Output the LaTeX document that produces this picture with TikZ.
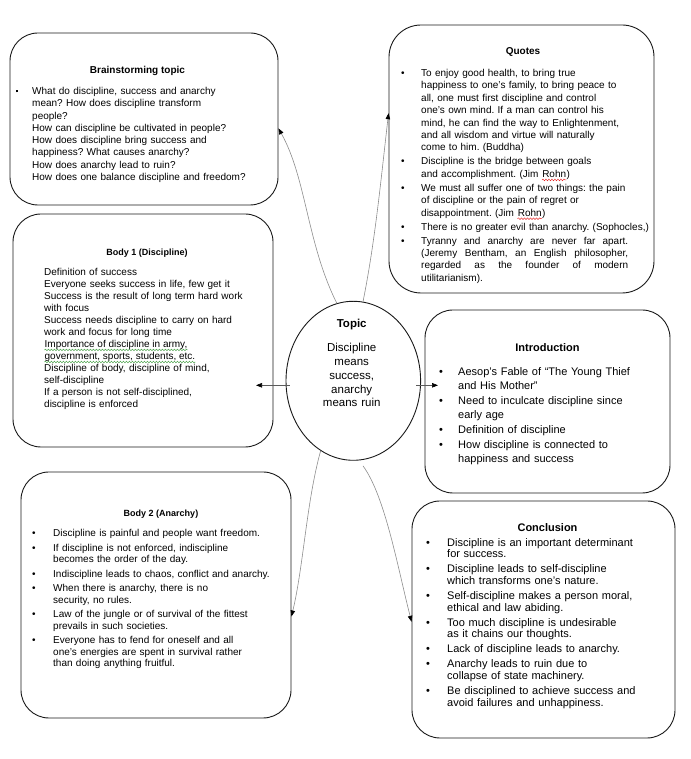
\documentclass[tikz,border=0pt]{standalone}
\usepackage{fontspec}
\setmainfont{Liberation Sans}
\usetikzlibrary{arrows.meta, shapes.geometric, calc, decorations.pathmorphing}
\frenchspacing

\definecolor{LinkGray}{RGB}{140,140,140}
\definecolor{LineDark}{RGB}{90,90,90}
\definecolor{SpellRed}{RGB}{230,40,40}
\definecolor{GrammarGreen}{RGB}{70,160,70}

% bullet paragraph with hanging text
\newcommand{\bpoint}[3][\textbullet]{\hangindent=#2\hangafter=1\makebox[#2][l]{#1}#3\par}
\newcommand{\sqbullet}{\hspace{1pt}\rule[2pt]{2pt}{2pt}}
% wavy underline of the spell / grammar check
\newcommand{\squiggle}[2]{\tikz[baseline=(sq.base)]{%
  \node[inner sep=0pt, text width={}, anchor=base] (sq) {#2};
  \draw[#1, line width=0.5pt, decorate, decoration={snake, amplitude=0.8pt, segment length=3pt}]
    ([yshift=-2.6pt]sq.base west) -- ([yshift=-2.6pt]sq.base east);}}

\tikzset{
  card/.style={draw=black!90, line width=0.9pt, rounded corners=28pt, inner sep=0pt},
  heading/.style={anchor=base, inner sep=0pt, font={\fontsize{#1}{12}\selectfont\bfseries}},
  body/.style={anchor=base west, inner sep=0pt, text width=262pt, align=left},
  link/.style={draw=LinkGray, line width=0.6pt, -{Triangle[length=6pt, width=4.5pt, color=black]}},
  straight/.style={draw=LineDark, line width=0.6pt, -{Triangle[length=6pt, width=4.5pt, color=black]}}
}

\begin{document}
\begin{tikzpicture}[x=1pt, y=1pt]
  \useasboundingbox (0,0) rectangle (690,759);

  % boxes
  \node[card, minimum width=268pt, minimum height=172pt] (brain) at (144,640) {};
  \node[card, rounded corners=32pt, minimum width=265pt, minimum height=268pt] (quotes) at (521.5,600) {};
  \node[card, minimum width=260pt, minimum height=233pt] (body1) at (143,428.5) {};
  \node[draw=black!90, line width=0.9pt, ellipse, inner sep=0pt,
        minimum width=134.6pt, minimum height=159pt] (topic) at (353.3,378.2) {};
  \node[card, minimum width=245pt, minimum height=183pt] (intro) at (547.5,357.5) {};
  \node[card, minimum width=270pt, minimum height=246pt] (body2) at (156,164) {};
  \node[card, minimum width=263pt, minimum height=237pt] (concl) at (543.5,139.5) {};

  % brainstorming
  \node[heading=10] (brainhead) at (137.5,685.5) {Brainstorming topic};
  \node[body, font=\fontsize{10}{12.3}\selectfont] (braintext) at (15,664.5) {%
    \bpoint[\sqbullet]{17pt}{What do discipline, success and anarchy\newline
      mean? How does discipline transform\newline
      people?\newline
      How can discipline be cultivated in people?\newline
      How does discipline bring success and\newline
      happiness? What causes anarchy?\newline
      How does anarchy lead to ruin?\newline
      How does one balance discipline and freedom?}};

  % quotes
  \node[heading=10] (quoteshead) at (523,704.5) {Quotes};
  \node[body, font=\fontsize{10}{12.4}\selectfont] (quotestext) at (401,682.5) {%
    \setlength{\parskip}{1.6pt}%
    \bpoint{20pt}{To enjoy good health, to bring true\newline
      happiness to one’s family, to bring peace to\newline
      all, one must first discipline and control\newline
      one’s own mind. If a man can control his\newline
      mind, he can find the way to Enlightenment,\newline
      and all wisdom and virtue will naturally\newline
      come to him. (Buddha)}
    \bpoint{20pt}{Discipline is the bridge between goals\newline
      and accomplishment. (Jim \squiggle{SpellRed}{Rohn})}
    \bpoint{20pt}{We must all suffer one of two things: the pain\newline
      of discipline or the pain of regret or\newline
      disappointment. (Jim \squiggle{SpellRed}{Rohn})}
    \bpoint{20pt}{There is no greater evil than anarchy. (Sophocles,)}
    \bpoint{20pt}{\hbox to 207pt{Tyranny\hfill and\hfill anarchy\hfill are\hfill never\hfill far\hfill apart.}\newline
      \hbox to 207pt{(Jeremy\hfill Bentham,\hfill an\hfill English\hfill philosopher,}\newline
      \hbox to 207pt{regarded\hfill as\hfill the\hfill founder\hfill of\hfill modern}\newline
      utilitarianism).}};

  % body 1
  \node[heading=9] (body1head) at (147,503.5) {Body 1 (Discipline)};
  \node[body, font=\fontsize{10}{12.03}\selectfont] (body1text) at (44,483.8) {%
    Definition of success\newline
    Everyone seeks success in life, few get it\newline
    Success is the result of long term hard work\newline
    with focus\newline
    Success needs discipline to carry on hard\newline
    work and focus for long time\newline
    \squiggle{GrammarGreen}{Importance of discipline in army,}\newline
    \squiggle{GrammarGreen}{government, sports, students, etc.}\newline
    Discipline of body, discipline of mind,\newline
    self-discipline\newline
    If a person is not self-disciplined,\newline
    discipline is enforced};

  % topic
  \node[heading=11.5] (topichead) at (351.7,431) {Topic};
  \node[anchor=base, inner sep=0pt, text width=120pt, align=center,
        font=\fontsize{11.5}{13.75}\selectfont] (topictext) at (351.7,407)
    {Discipline\\means\\success,\\anarchy\\means ruin};

  % introduction
  \node[heading=11] (introhead) at (547.5,407.5) {Introduction};
  \node[body, font=\fontsize{11}{13.6}\selectfont] (introtext) at (439,383.5) {%
    \setlength{\parskip}{1.8pt}%
    \bpoint{19pt}{Aesop’s Fable of “The Young Thief\newline and His Mother”}
    \bpoint{19pt}{Need to inculcate discipline since\newline early age}
    \bpoint{19pt}{Definition of discipline}
    \bpoint{19pt}{How discipline is connected to\newline happiness and success}};

  % body 2
  \node[heading=9] (body2head) at (161,242.5) {Body 2 (Anarchy)};
  \node[body, font=\fontsize{10}{11.7}\selectfont] (body2text) at (32,222.2) {%
    \setlength{\parskip}{2.6pt}%
    \bpoint{21pt}{Discipline is painful and people want freedom.}
    \bpoint{21pt}{If discipline is not enforced, indiscipline\newline becomes the order of the day.}
    \bpoint{21pt}{Indiscipline leads to chaos, conflict and anarchy.}
    \bpoint{21pt}{When there is anarchy, there is no\newline security, no rules.}
    \bpoint{21pt}{Law of the jungle or of survival of the fittest\newline prevails in such societies.}
    \bpoint{21pt}{Everyone has to fend for oneself and all\newline one’s energies are spent in survival rather\newline than doing anything fruitful.}};

  % conclusion
  \node[heading=11] (conclhead) at (547.5,227.5) {Conclusion};
  \node[body, font=\fontsize{11}{11.7}\selectfont] (concltext) at (426,212.8) {%
    \setlength{\parskip}{3.3pt}%
    \bpoint{21pt}{Discipline is an important determinant\newline for success.}
    \bpoint{21pt}{Discipline leads to self-discipline\newline which transforms one’s nature.}
    \bpoint{21pt}{Self-discipline makes a person moral,\newline ethical and law abiding.}
    \bpoint{21pt}{Too much discipline is undesirable\newline as it chains our thoughts.}
    \bpoint{21pt}{Lack of discipline leads to anarchy.}
    \bpoint{21pt}{Anarchy leads to ruin due to\newline collapse of state machinery.}
    \bpoint{21pt}{Be disciplined to achieve success and\newline avoid failures and unhappiness.}};

  % connectors
  \coordinate (b1tip) at (256,373.7);
  \coordinate (intip) at (438,373.7);
  \draw[link] (topic.102) .. controls +(-30,60) and +(28,-50) .. (brain.-4);
  \draw[link] (topic.83) .. controls +(12,60) and +(-8,-70) .. (quotes.161);
  \draw[straight] ($(topic.west)+(4,-4.5)$) -- (b1tip);
  \draw[straight] ($(topic.east)+(-5,-4.5)$) -- (intip);
  \draw[link] (topic.245) .. controls +(-14,-50) and +(12,50) .. (body2.-9);
  \draw[link] ($(topic.277)+(0,-6)$) .. controls +(22,-30) and +(-14,55) .. (concl.181);
\end{tikzpicture}
\end{document}
